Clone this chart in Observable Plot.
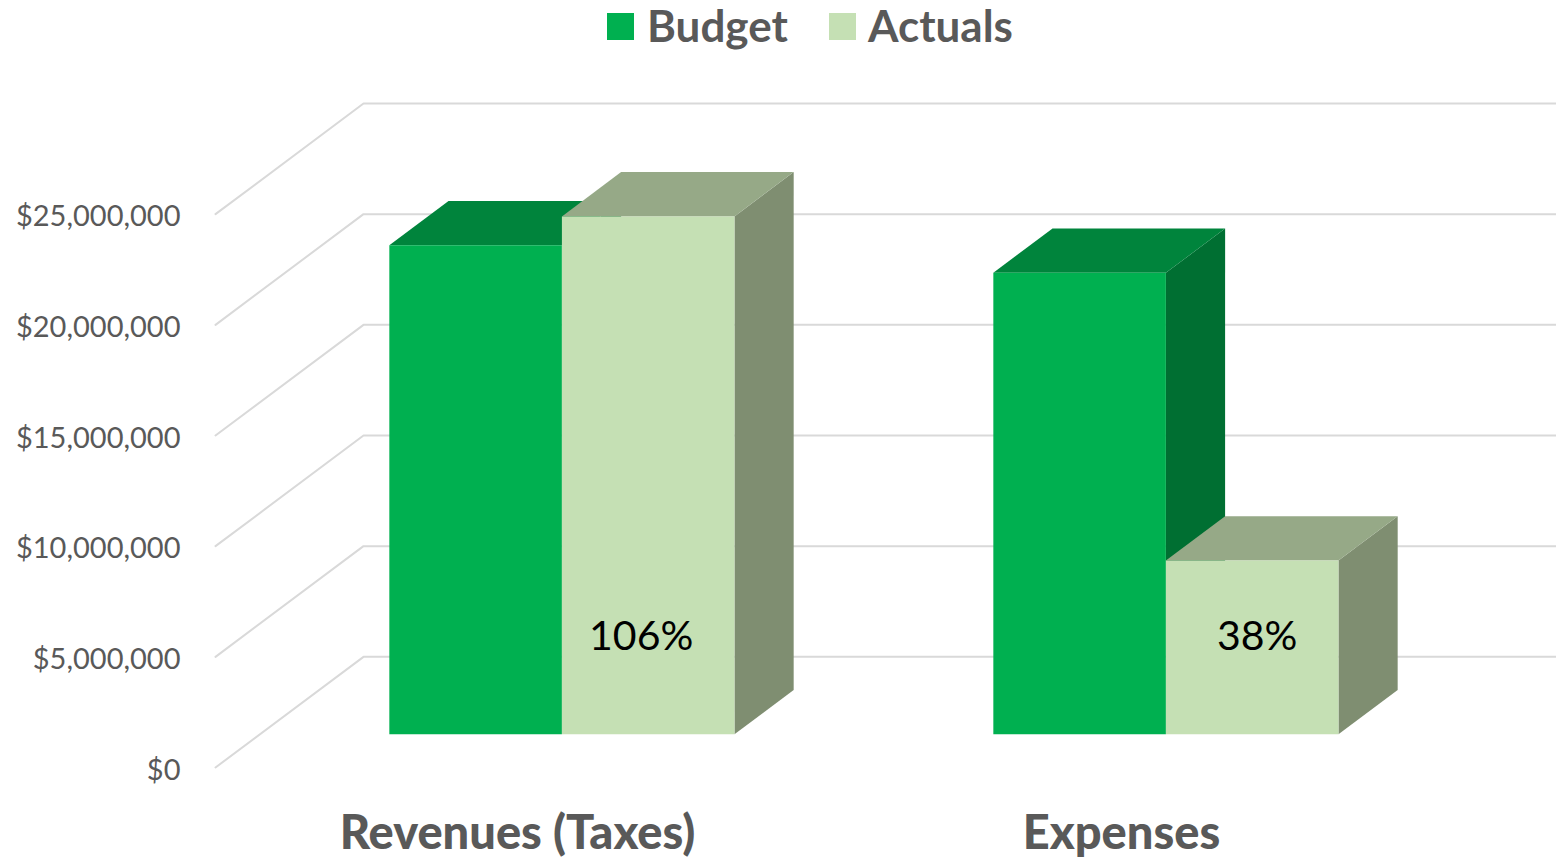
<!DOCTYPE html>
<html>
<head>
<meta charset="utf-8">
<script src="https://cdn.jsdelivr.net/npm/d3@7"></script>
<script src="https://cdn.jsdelivr.net/npm/@observablehq/plot@0.6"></script>
<style>
  html, body { margin: 0; padding: 0; background: #fff; overflow: hidden; }
  #legend { position: relative; height: 60px; font-family: Lato, sans-serif; font-weight: 700; font-size: 44px; color: #595959; }
  .sw { position: absolute; top: 13px; width: 27px; height: 27px; }
  .lb { position: absolute; top: 1px; line-height: 48px; white-space: nowrap; }
  svg { display: block; }
</style>
</head>
<body>
<div id="legend"></div>
<div id="chart"></div>
<script>
const categories = ["Revenues (Taxes)", "Expenses"];
const seriesNames = ["Budget", "Actuals"];
const budget = [22100000, 20850000];
const actuals = [23400000, 7850000];
const percentLabels = ["106%", "38%"];
const tickValues = [0, 5000000, 10000000, 15000000, 20000000, 25000000];

const frontColors = ["#00B050", "#C5E0B4"];
const topColors = ["#00843C", "#96A987"];
const sideColors = ["#006F32", "#7F8E71"];

// oblique projection: one category slot = 1 x unit; depth 1 shifts by depthX and one y gridstep
const depthX = 148 / 604, depthY = 5000000;
const barW = 1 / 3.5, gap = 0.75 / 3.5, dFront = 0.3, dBack = 0.7;
const px = (x, d) => x + d * depthX;
const py = (v, d) => v + d * depthY;

const faces = [];
function addFace(id, color, pts) {
  pts.forEach(([x, v, d]) => faces.push({id, color, x: px(x, d), y: py(v, d)}));
}
categories.forEach((c, i) => {
  [budget[i], actuals[i]].forEach((v, k) => {
    const x0 = i + gap + k * barW, x1 = x0 + barW;
    addFace(`${i}-${k}-side`, sideColors[k], [[x1, 0, dFront], [x1, 0, dBack], [x1, v, dBack], [x1, v, dFront]]);
    addFace(`${i}-${k}-top`, topColors[k], [[x0, v, dFront], [x0, v, dBack], [x1, v, dBack], [x1, v, dFront]]);
    addFace(`${i}-${k}-front`, frontColors[k], [[x0, 0, dFront], [x1, 0, dFront], [x1, v, dFront], [x0, v, dFront]]);
  });
});

const xDomain = [-30 / 604, 1341 / 604];
const grid = [];
tickValues.forEach(v => {
  grid.push({id: v, x: px(0, 0), y: py(v, 0)});
  grid.push({id: v, x: px(0, 1), y: py(v, 1)});
  grid.push({id: v, x: xDomain[1], y: py(v, 1)});
});

const labelShift = [-7 / 604, 5 / 604];
const labels = categories.map((c, i) => ({
  x: px(i + gap + 1.5 * barW, dFront) + labelShift[i], y: 5900000, text: percentLabels[i]
}));

const fmt = d3.format("$,");
const plot = Plot.plot({
  width: 1556,
  height: 802,
  marginLeft: 185,
  marginRight: 0,
  marginTop: 43,
  marginBottom: 95,
  style: {fontFamily: "Lato, sans-serif", background: "#fff", overflow: "hidden"},
  x: {domain: xDomain},
  y: {domain: [0, 30000000]},
  color: {type: "identity"},
  marks: [
    Plot.line(grid, {x: "x", y: "y", z: "id", stroke: "#D9D9D9", strokeWidth: 2}),
    Plot.line(faces, {x: "x", y: "y", z: "id", fill: "color", stroke: "none"}),
    Plot.text(labels, {x: "x", y: "y", text: "text", fontSize: 41, fill: "#000"}),
    Plot.axisY(tickValues, {anchor: "left", tickSize: 0, tickPadding: 5, tickFormat: fmt, label: null, fontSize: 29, fill: "#595959", dy: 3}),
    Plot.axisX([0.5, 1.5], {anchor: "bottom", tickSize: 0, tickPadding: 48, tickFormat: t => categories[Math.floor(t)], label: null, fontSize: 47, fontWeight: 900, fill: "#595959"})
  ]
});
document.getElementById("chart").appendChild(plot);

const legend = document.getElementById("legend");
const swatchX = [607, 829], labelX = [647, 868];
seriesNames.forEach((s, k) => {
  const sw = document.createElement("div");
  sw.className = "sw"; sw.style.left = swatchX[k] + "px"; sw.style.background = frontColors[k];
  const lb = document.createElement("div");
  lb.className = "lb"; lb.style.left = labelX[k] + "px"; lb.textContent = s;
  legend.append(sw, lb);
});
</script>
</body>
</html>
